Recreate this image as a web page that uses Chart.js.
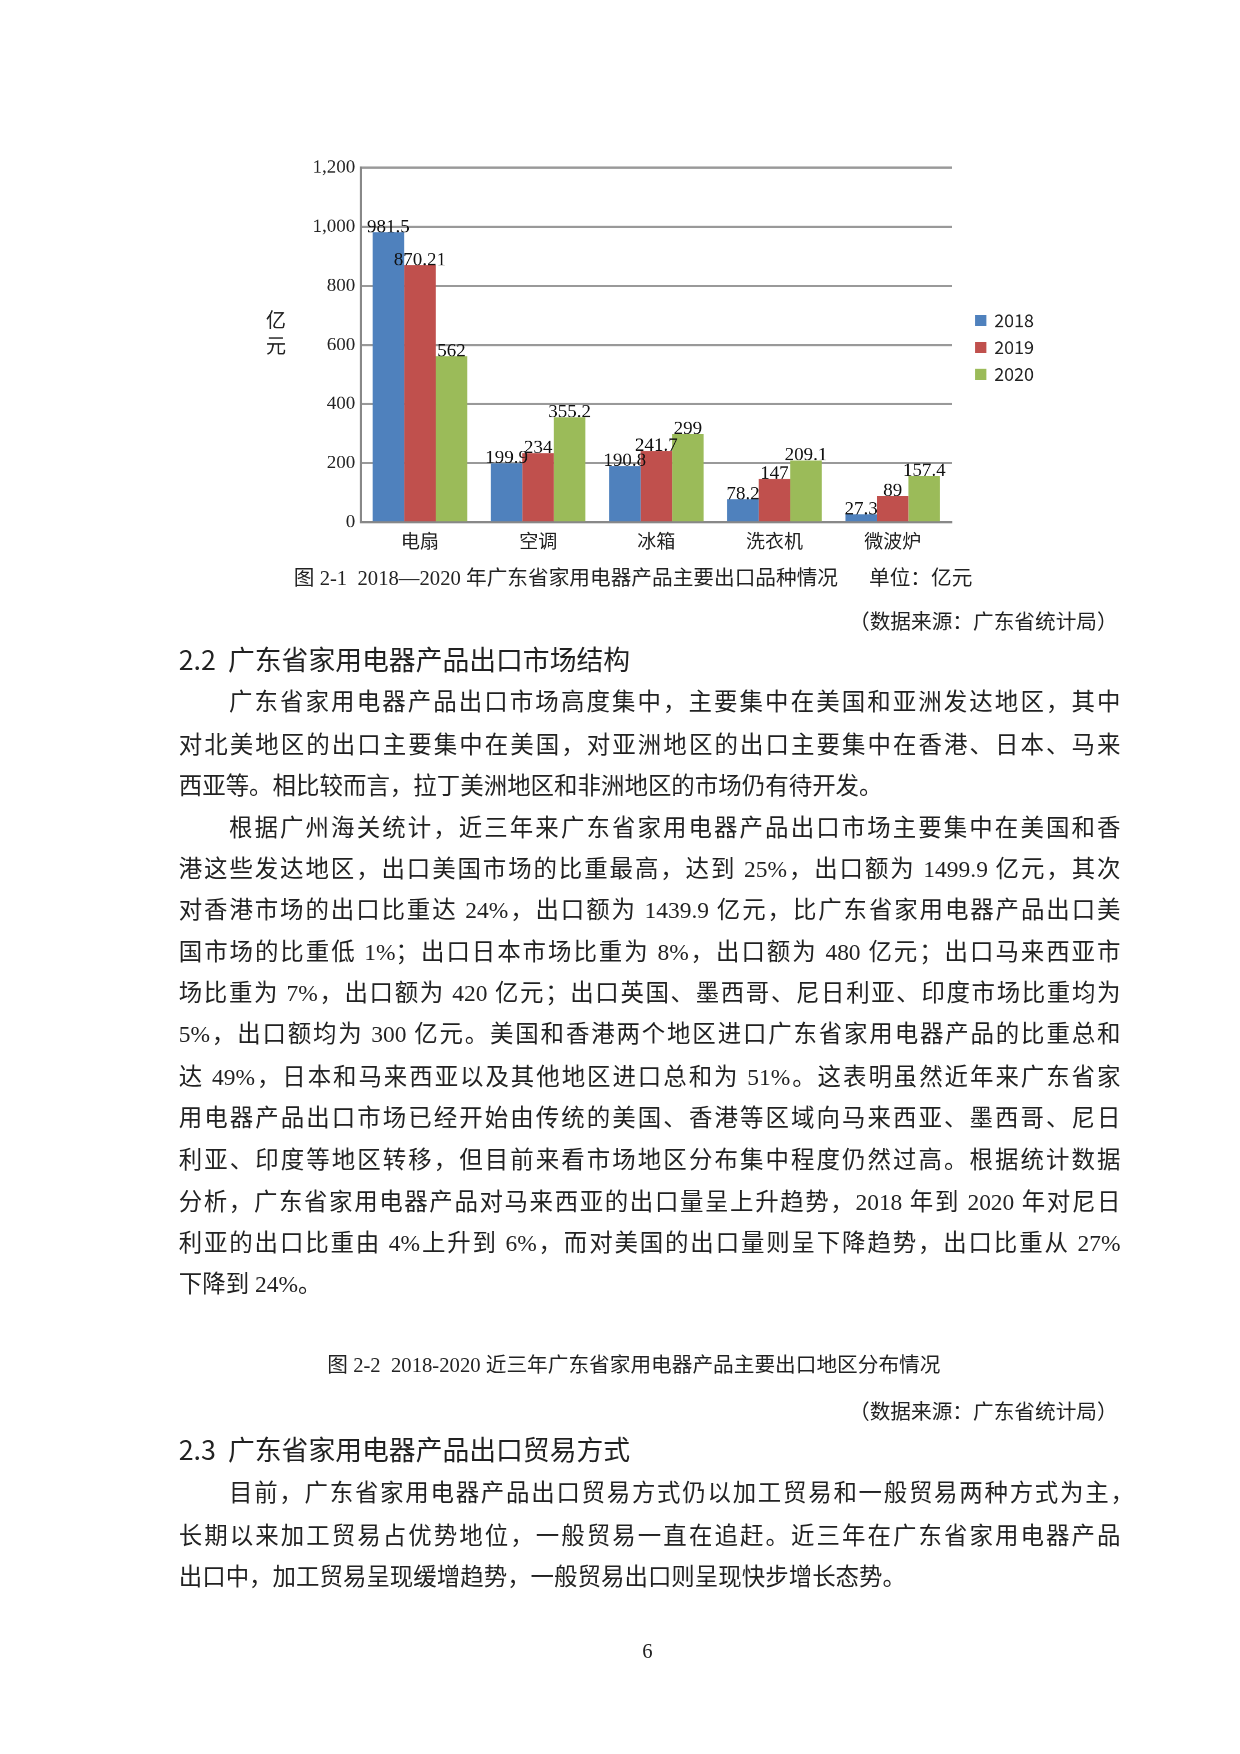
<!DOCTYPE html>
<html><head><meta charset="utf-8">
<script src="https://cdn.jsdelivr.net/npm/chart.js@4/dist/chart.umd.min.js"></script>
<style>
body{margin:0;width:1240px;height:1754px;background:#fff;overflow:hidden}
#page{position:absolute;left:0;top:0;width:1110px;height:1570px;transform:scale(1.1171);transform-origin:0 0;font-family:"Liberation Serif","Noto Sans CJK SC",serif;color:#222}
#wrap{position:absolute;left:230px;top:130px;width:720px;height:370px}
.l{position:absolute;left:160px;width:843px;font-size:21px;line-height:26px;text-align:justify;text-align-last:justify;white-space:nowrap}
.n{text-align-last:left}
.c{position:absolute;font-size:18.5px;line-height:24px;white-space:nowrap}
.h{position:absolute;left:160px;font-family:"Noto Sans CJK SC",sans-serif;font-size:24px;line-height:30px;white-space:nowrap}
</style></head><body>
<div id="page">
<div id="wrap"><canvas id="c" width="720" height="370"></canvas></div>
<div class="c" style="left:263px;top:506px">图 2-1&nbsp; 2018—2020 年广东省家用电器产品主要出口品种情况&nbsp;&nbsp;&nbsp;&nbsp;&nbsp; 单位：亿元</div>
<div class="c" style="left:760px;top:545px">（数据来源：广东省统计局）</div>
<div class="h" style="top:575px">2.2&nbsp; 广东省家用电器产品出口市场结构</div>
<div class="l" style="top:616px;left:205px;width:798px">广东省家用电器产品出口市场高度集中，主要集中在美国和亚洲发达地区，其中</div>
<div class="l" style="top:654px">对北美地区的出口主要集中在美国，对亚洲地区的出口主要集中在香港、日本、马来</div>
<div class="l n" style="top:691px">西亚等。相比较而言，拉丁美洲地区和非洲地区的市场仍有待开发。</div>
<div class="l" style="top:728px;left:205px;width:798px">根据广州海关统计，近三年来广东省家用电器产品出口市场主要集中在美国和香</div>
<div class="l" style="top:765px">港这些发达地区，出口美国市场的比重最高，达到 25%，出口额为 1499.9 亿元，其次</div>
<div class="l" style="top:802px">对香港市场的出口比重达 24%，出口额为 1439.9 亿元，比广东省家用电器产品出口美</div>
<div class="l" style="top:839px">国市场的比重低 1%；出口日本市场比重为 8%，出口额为 480 亿元；出口马来西亚市</div>
<div class="l" style="top:876px">场比重为 7%，出口额为 420 亿元；出口英国、墨西哥、尼日利亚、印度市场比重均为</div>
<div class="l" style="top:913px">5%，出口额均为 300 亿元。美国和香港两个地区进口广东省家用电器产品的比重总和</div>
<div class="l" style="top:951px">达 49%，日本和马来西亚以及其他地区进口总和为 51%。这表明虽然近年来广东省家</div>
<div class="l" style="top:988px">用电器产品出口市场已经开始由传统的美国、香港等区域向马来西亚、墨西哥、尼日</div>
<div class="l" style="top:1026px">利亚、印度等地区转移，但目前来看市场地区分布集中程度仍然过高。根据统计数据</div>
<div class="l" style="top:1063px">分析，广东省家用电器产品对马来西亚的出口量呈上升趋势，2018 年到 2020 年对尼日</div>
<div class="l" style="top:1100px">利亚的出口比重由 4%上升到 6%，而对美国的出口量则呈下降趋势，出口比重从 27%</div>
<div class="l n" style="top:1137px">下降到 24%。</div>
<div class="c" style="left:293px;top:1210px">图 2-2&nbsp; 2018-2020 近三年广东省家用电器产品主要出口地区分布情况</div>
<div class="c" style="left:760px;top:1252px">（数据来源：广东省统计局）</div>
<div class="h" style="top:1282px">2.3&nbsp; 广东省家用电器产品出口贸易方式</div>
<div class="l" style="top:1324px;left:205px;width:810px">目前，广东省家用电器产品出口贸易方式仍以加工贸易和一般贸易两种方式为主，</div>
<div class="l" style="top:1362px">长期以来加工贸易占优势地位，一般贸易一直在追赶。近三年在广东省家用电器产品</div>
<div class="l n" style="top:1399px">出口中，加工贸易呈现缓增趋势，一般贸易出口则呈现快步增长态势。</div>
<div class="c" style="left:575px;top:1466px">6</div>
</div>
<script>
const categories = ["电扇", "空调", "冰箱", "洗衣机", "微波炉"];
const seriesNames = ["2018", "2019", "2020"];
const v2018 = [981.5, 199.9, 190.8, 78.2, 27.3];
const v2019 = [870.21, 234, 241.7, 147, 89];
const v2020 = [562, 355.2, 299, 209.1, 157.4];
const colors = ["#4f81bd", "#c0504d", "#9bbb59"];

const labelPlugin = {
  id: "extras",
  afterDatasetsDraw(chart) {
    const ctx = chart.ctx;
    ctx.save();
    ctx.font = "17px 'Liberation Serif'";
    ctx.fillStyle = "#111";
    ctx.textAlign = "center";
    ctx.textBaseline = "bottom";
    chart.data.datasets.forEach((ds, i) => {
      chart.getDatasetMeta(i).data.forEach((bar, j) => {
        ctx.fillText(String(ds.data[j]), bar.x, bar.y + 4);
      });
    });
    // y title
    ctx.font = "18px 'Noto Sans CJK SC'";
    ctx.textBaseline = "middle";
    ctx.fillStyle = "#222";
    ctx.fillText("亿", 17, 156);
    ctx.fillText("元", 17, 179);
    // legend
    ctx.font = "16px 'Noto Sans CJK SC'";
    ctx.textAlign = "left";
    seriesNames.forEach((s, i) => {
      const y = 157 + i * 24;
      ctx.fillStyle = colors[i];
      ctx.fillRect(643, y - 5, 10, 10);
      ctx.fillStyle = "#222";
      ctx.fillText(s, 660, y);
    });
    ctx.restore();
  }
};

new Chart(document.getElementById("c"), {
  type: "bar",
  data: {
    labels: categories,
    datasets: [v2018, v2019, v2020].map((d, i) => ({
      label: seriesNames[i], data: d, backgroundColor: colors[i],
      categoryPercentage: 0.8, barPercentage: 1.0
    }))
  },
  plugins: [labelPlugin],
  options: {
    responsive: false, animation: false, devicePixelRatio: 2,
    layout: { padding: { top: 20, right: 98, left: 0, bottom: 0 } },
    plugins: { legend: { display: false }, tooltip: { enabled: false } },
    scales: {
      x: {
        grid: { display: false, drawTicks: false },
        border: { color: "#888", width: 2 },
        ticks: { color: "#222", padding: 6, font: { family: "Noto Sans CJK SC", size: 17 } }
      },
      y: {
        min: 0, max: 1200,
        ticks: { stepSize: 200, color: "#222", padding: 5, font: { family: "Liberation Serif", size: 17 } },
        grid: { color: "#999", lineWidth: 2, drawTicks: false },
        border: { color: "#888", width: 2 },
        afterFit(s) { s.width = 93; }
      }
    }
  }
});
</script>
</body></html>
